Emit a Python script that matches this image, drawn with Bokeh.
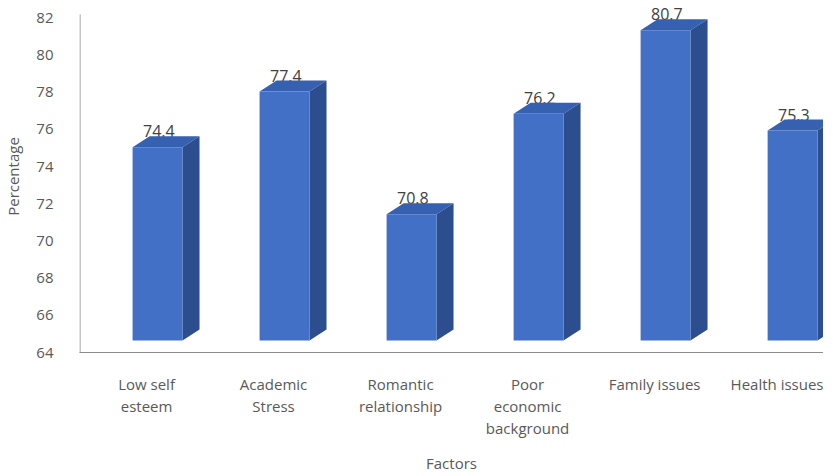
from bokeh.plotting import figure
from bokeh.models import Range1d, FixedTicker, ColumnDataSource
from bokeh.embed import file_html
from bokeh.resources import INLINE
from bokeh.core.properties import value
import numpy as np

categories = ["Low self\nesteem", "Academic\nStress", "Romantic\nrelationship",
              "Poor\neconomic\nbackground", "Family issues", "Health issues"]
percentages = [74.4, 77.4, 70.8, 76.2, 80.7, 75.3]
labels = ["74.4", "77.4", "70.8", "76.2", "80.7", "75.3"]
y_ticks = [64, 66, 68, 70, 72, 74, 76, 78, 80, 82]

FONT = "Open Sans"
Y0 = 64
Y_AXIS_TOP = 82.19
# pseudo-3D geometry (in axis units)
LIFT = 0.645      # front face floats above floor
DX = 0.134        # depth in x
DY = 0.59         # depth in y
FL, FR = -0.11, 0.283   # front face edges relative to category centre
X_START = -0.028

p = figure(frame_width=744, frame_height=352, output_backend="svg", toolbar_location=None,
           x_range=Range1d(X_START, X_START + 5.858), y_range=Range1d(64, 82.94),
           min_border_left=75, min_border_right=0, min_border_top=0, min_border_bottom=0)
p.outline_line_color = None
p.grid.visible = False
p.background_fill_color = "white"

n = len(percentages)
xc = np.arange(n) + 0.5
vals = np.array(percentages)

# value axis line only up to the top tick region (as in the original)
p.segment(x0=[X_START + 0.004], y0=[Y0], x1=[X_START + 0.004], y1=[Y_AXIS_TOP],
          line_color="#8c8c8c", line_width=1)

# data labels (drawn first, partly hidden by bar tops as in the original)
lab_src = ColumnDataSource(dict(x=xc + (FL + FR) / 2 + 0.01, y=vals + LIFT + DY + 0.26, t=labels))
p.text(x="x", y="y", text="t", source=lab_src, text_font=value(FONT), text_font_size="16px",
       text_color="#404040", text_align="center", text_baseline="middle")

front_l = xc + FL
front_r = xc + FR
front_b = np.full(n, Y0 + LIFT)
front_t = vals + LIFT

top_xs = [[l, r, r + DX, l + DX] for l, r in zip(front_l, front_r)]
top_ys = [[t, t, t + DY, t + DY] for t in front_t]
side_xs = [[r, r + DX, r + DX, r] for r in front_r]
side_ys = [[b, b + DY, t + DY, t] for b, t in zip(front_b, front_t)]

p.patches(top_xs, top_ys, fill_color="#3561b0", line_color=None)
p.patches(side_xs, side_ys, fill_color="#2c4d8e", line_color=None)
p.quad(left=front_l, right=front_r, bottom=front_b, top=front_t,
       fill_color="#4170c6", line_color=None)

# axes
p.yaxis.ticker = FixedTicker(ticks=y_ticks)
p.xaxis.ticker = FixedTicker(ticks=list(xc))
p.xaxis.major_label_overrides = {float(x): c for x, c in zip(xc, categories)}

for ax in (p.xaxis[0], p.yaxis[0]):
    ax.axis_line_color = "#8c8c8c"
    ax.axis_line_width = 1
    ax.major_tick_line_color = None
    ax.minor_tick_line_color = None
    ax.major_label_text_font = FONT
    ax.major_label_text_color = "#595959"
    ax.major_label_text_font_size = "15px"
    ax.axis_label_text_font = FONT
    ax.axis_label_text_font_style = "normal"
    ax.axis_label_text_color = "#595959"
    ax.axis_label_text_font_size = "15px"

p.yaxis.axis_line_color = None
p.yaxis.axis_label = "Percentage"
p.yaxis.major_label_standoff = 20
p.yaxis.axis_label_standoff = 10
p.xaxis.axis_label = "Factors"
p.xaxis.major_label_standoff = 15
p.xaxis.major_label_text_line_height = 1.1
p.xaxis.axis_label_standoff = 12

open("out.html", "w").write(file_html(p, INLINE))
